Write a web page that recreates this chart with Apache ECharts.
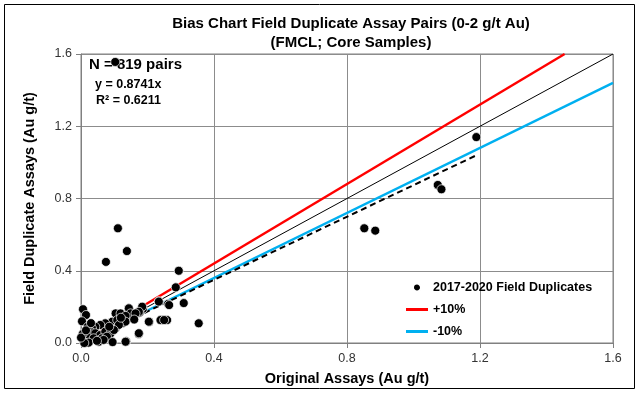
<!DOCTYPE html>
<html><head><meta charset="utf-8">
<script src="https://cdn.jsdelivr.net/npm/echarts@6/dist/echarts.min.js"></script>
<style>html,body{margin:0;padding:0;background:#fff}#c{width:639px;height:394px}</style>
</head><body><div id="c"></div>
<script>
// Scatter data: [original, duplicate] (Au g/t)
const dupX = [1.189,1.073,1.084,0.852,0.885,0.103,0.111,0.138,0.075,0.294,0.285,0.234,0.262,0.309,0.245,0.259,0.354,0.205,0.174,0.136,0.186,0.176,0.143,0.143,
  0.006,0.015,0.104,0.119,0.144,0.149,0.134,0.184,0.174,0.164,0.094,0.073,0.058,0.043,0.033,0.109,0.124,0.104,0.134,0.114,
  0.028,0.043,0.058,0.073,0.089,0.018,0.038,0.063,0.078,0.099,0.008,0.023,0.053,0.068,0.134,0.174,0.204,0.239,0.250,0.234,0.265,
  0.003,0.005,0.010,0.020,0.000,0.015,0.048,0.085,0.030,0.120,0.160,0.095];
const dupY = [1.140,0.875,0.851,0.635,0.622,1.556,0.635,0.509,0.449,0.400,0.308,0.231,0.216,0.221,0.127,0.127,0.109,0.116,0.050,0.009,0.188,0.168,0.192,0.155,
  0.187,0.155,0.164,0.164,0.192,0.164,0.150,0.201,0.173,0.164,0.118,0.109,0.100,0.090,0.081,0.127,0.109,0.081,0.118,0.100,
  0.063,0.054,0.044,0.063,0.054,0.035,0.026,0.026,0.035,0.072,0.007,0.002,0.007,0.017,0.007,0.054,0.118,0.127,0.127,0.229,0.210,
  0.120,0.050,0.000,0.090,0.030,0.070,0.012,0.090,0.110,0.140,0.130,0.005];
const oneToOneX = [0, 1.6], oneToOneY = [0, 1.6];
const plusX = [0, 1.4545], plusY = [0, 1.6];
const minusX = [0, 1.6], minusY = [0, 1.44];
const trendX = [0, 1.19], trendY = [0, 1.04];
const ticks = [0, 0.4, 0.8, 1.2, 1.6];
const zip = (a, b) => a.map((v, i) => [v, b[i]]);

const chart = echarts.init(document.getElementById('c'));
const font = 'Liberation Sans, Arial, sans-serif';
const axisCommon = {
  type: 'value', min: ticks[0], max: ticks[ticks.length - 1], interval: 0.4,
  axisLine: {show: true, lineStyle: {color: '#808080', width: 1}},
  axisTick: {show: true, length: 5, lineStyle: {color: '#808080'}},
  splitLine: {show: true, lineStyle: {color: '#8c8c8c', width: 1}},
  axisLabel: {color: '#333', fontSize: 12.5, fontFamily: font, formatter: v => v.toFixed(1)},
  nameLocation: 'middle',
  nameTextStyle: {color: '#000', fontSize: 14.5, fontWeight: 'bold', fontFamily: font}
};
chart.setOption({
  animation: false,
  title: {text: 'Bias Chart Field Duplicate Assay Pairs (0-2 g/t Au)\n(FMCL; Core Samples)', left: 346, textAlign: 'center', top: 9,
    textStyle: {fontSize: 15, fontWeight: 'bold', fontFamily: font, color: '#000', lineHeight: 19}},
  grid: {left: 81, right: 26, top: 54, bottom: 51, show: true, borderColor: '#808080', borderWidth: 1},
  xAxis: Object.assign({}, axisCommon, {name: 'Original Assays (Au g/t)', nameGap: 28,
    axisLabel: Object.assign({}, axisCommon.axisLabel, {margin: 9})}),
  yAxis: Object.assign({}, axisCommon, {name: 'Field Duplicate Assays (Au g/t)', nameGap: 44, nameRotate: 90,
    axisLabel: Object.assign({}, axisCommon.axisLabel, {margin: 9})}),
  legend: {orient: 'vertical', left: 401, top: 276, itemGap: 9, itemWidth: 22, itemHeight: 8,
    textStyle: {fontSize: 12.5, fontWeight: 'bold', fontFamily: font, color: '#000'},
    data: [
      {name: '2017-2020 Field Duplicates', icon: 'path://M5,0A5,5 0 1 1 4.99,0Z'},
      {name: '+10%', icon: 'path://M0,0L22,0L22,3L0,3Z'},
      {name: '-10%', icon: 'path://M0,0L22,0L22,3L0,3Z'}
    ]},
  graphic: [
    {type: 'rect', shape: {x: 4.5, y: 4.5, width: 630, height: 384}, style: {fill: 'none', stroke: '#000', lineWidth: 1}, silent: true},
    {type: 'text', left: 89, top: 57, style: {text: 'N = 819 pairs', font: 'bold 15px Liberation Sans, Arial, sans-serif', fill: '#000'}, z: 1},
    {type: 'text', left: 95, top: 78, style: {text: 'y = 0.8741x', font: 'bold 12.5px Liberation Sans, Arial, sans-serif', fill: '#000'}, z: 1},
    {type: 'text', left: 96, top: 94, style: {text: 'R² = 0.6211', font: 'bold 12.5px Liberation Sans, Arial, sans-serif', fill: '#000'}, z: 1}
  ],
  series: [
    {name: '1:1', type: 'line', data: zip(oneToOneX, oneToOneY), showSymbol: false, lineStyle: {color: '#000', width: 1}, z: 2},
    {name: '+10%', type: 'line', data: zip(plusX, plusY), showSymbol: false, color: '#ff0000', lineStyle: {color: '#ff0000', width: 2.5}, z: 2},
    {name: '-10%', type: 'line', data: zip(minusX, minusY), showSymbol: false, color: '#00b0f0', lineStyle: {color: '#00b0f0', width: 2.5}, z: 2},
    {name: 'trend', type: 'line', data: zip(trendX, trendY), showSymbol: false, lineStyle: {color: '#000', width: 2, type: [6, 4]}, z: 2},
    {name: '2017-2020 Field Duplicates', type: 'scatter', data: zip(dupX, dupY), symbolSize: 9, z: 5,
      itemStyle: {color: '#000', borderColor: '#fff', borderWidth: 0.7, opacity: 1}}
  ]
});
</script></body></html>
